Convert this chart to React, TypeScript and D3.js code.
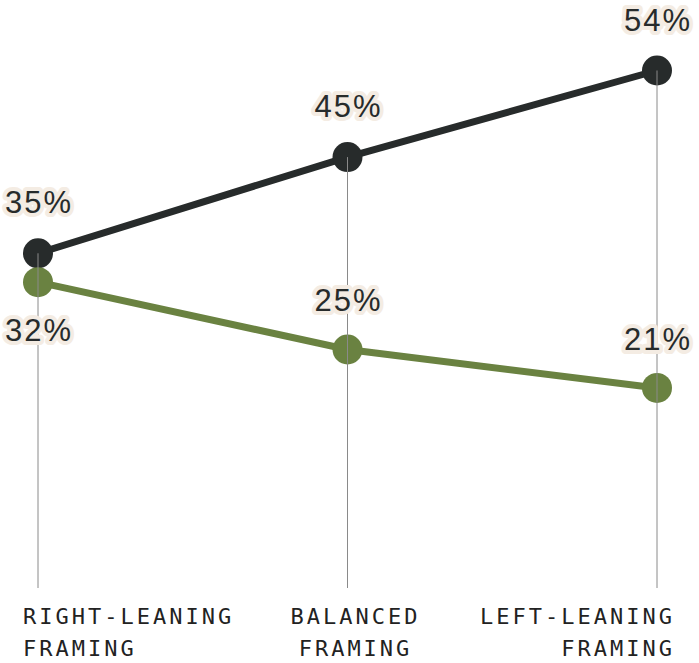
import React from "react";
import * as d3 from "d3";

const categories = ["RIGHT-LEANING FRAMING", "BALANCED FRAMING", "LEFT-LEANING FRAMING"];
const categoryLines = [["RIGHT-LEANING", "FRAMING"], ["BALANCED", "FRAMING"], ["LEFT-LEANING", "FRAMING"]];
const darkValues = [35, 45, 54];
const greenValues = [32, 25, 21];
const greenLabelBelow = [true, false, false];

const W = 699;
const H = 663;
const DARK = "#272b2b";
const GREEN = "#6a8241";
const HALO = "#f4ece3";

export default function App() {
  const x = d3.scalePoint<string>().domain(categories).range([38, 657]);
  const y = d3.scaleLinear().domain([0, 54]).range([590, 70.5]);

  const line = d3
    .line<number>()
    .x((_, i) => x(categories[i]) as number)
    .y((d) => y(d));

  const labelStyle: React.CSSProperties = {
    fontFamily: "'Liberation Sans', Arial, sans-serif",
    fontSize: 31,
    letterSpacing: 2,
    paintOrder: "stroke",
  };

  const anchors = ["start", "middle", "end"] as const;
  const offsets = [-15, 8, 18];

  return (
    <svg
      width={W}
      height={H}
      style={{ position: "absolute", left: 0, top: 0, background: "#fff" }}
    >
      <path d={line(darkValues) || ""} fill="none" stroke={DARK} strokeWidth={7} />
      <path d={line(greenValues) || ""} fill="none" stroke={GREEN} strokeWidth={7} />
      {darkValues.map((v, i) => (
        <circle key={"d" + i} cx={x(categories[i])} cy={y(v)} r={15} fill={DARK} />
      ))}
      {greenValues.map((v, i) => (
        <circle key={"g" + i} cx={x(categories[i])} cy={y(v)} r={15} fill={GREEN} />
      ))}
      {categories.map((c, i) => (
        <line
          key={"grid" + i}
          x1={x(c)}
          x2={x(c)}
          y1={y(Math.max(darkValues[i], greenValues[i]))}
          y2={588}
          stroke="#8a8a8a"
          strokeWidth={1}
        />
      ))}
      {darkValues.map((v, i) => (
        <text
          key={"dl" + i}
          x={(x(categories[i]) as number) + 1}
          y={y(v) - 40}
          textAnchor="middle"
          fill={DARK}
          stroke={HALO}
          strokeWidth={8}
          strokeLinejoin="round"
          style={labelStyle}
        >
          {v}%
        </text>
      ))}
      {greenValues.map((v, i) => (
        <text
          key={"gl" + i}
          x={(x(categories[i]) as number) + 1}
          y={greenLabelBelow[i] ? y(v) + 59 : y(v) - 38}
          textAnchor="middle"
          fill={DARK}
          stroke={HALO}
          strokeWidth={8}
          strokeLinejoin="round"
          style={labelStyle}
        >
          {v}%
        </text>
      ))}
      {categories.map((c, i) => (
        <text
          key={"xl" + i}
          x={(x(c) as number) + offsets[i]}
          y={624}
          textAnchor={anchors[i]}
          fill="#222"
          style={{
            fontFamily: "'DejaVu Sans Mono', 'Liberation Mono', monospace",
            fontSize: 22,
            letterSpacing: 3,
          }}
        >
          {categoryLines[i].map((t, j) => (
            <tspan key={j} x={(x(c) as number) + offsets[i]} dy={j === 0 ? 0 : 32}>
              {t}
            </tspan>
          ))}
        </text>
      ))}
    </svg>
  );
}
